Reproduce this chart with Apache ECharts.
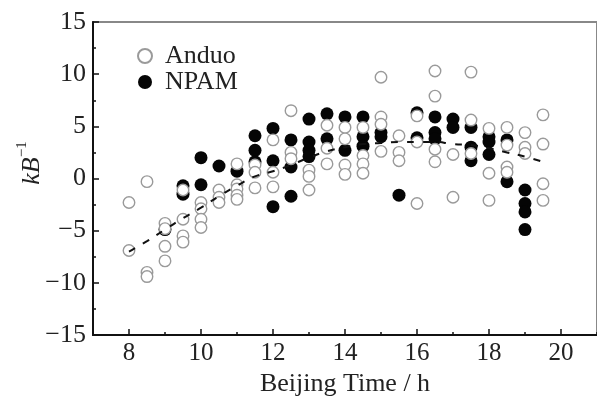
<!DOCTYPE html>
<html><head><meta charset="utf-8">
<script src="https://cdn.jsdelivr.net/npm/echarts@6/dist/echarts.min.js"></script>
<style>html,body{margin:0;padding:0;background:#fff}#c{width:597px;height:402px}</style>
</head><body><div id="c"></div>
<script>
const seriesNames = ['Anduo', 'NPAM'];
const anduo = [
  [8,-2.3],[8,-6.9],
  [8.5,-0.3],[8.5,-9.0],[8.5,-9.4],
  [9,-4.3],[9,-4.8],[9,-6.5],[9,-7.9],
  [9.5,-1.1],[9.5,-3.9],[9.5,-5.5],[9.5,-6.1],
  [10,-2.3],[10,-2.9],[10,-3.9],[10,-4.7],
  [10.5,-1.1],[10.5,-1.8],[10.5,-2.3],
  [11,1.4],[11,-0.6],[11,-1.0],[11,-1.6],[11,-2.0],
  [11.5,1.3],[11.5,0.6],[11.5,-0.9],
  [12,3.7],[12,0.6],[12,-0.8],
  [12.5,6.5],[12.5,2.5],[12.5,1.9],
  [13,0.8],[13,0.2],[13,-1.1],
  [13.5,5.1],[13.5,2.9],[13.5,1.4],
  [14,4.9],[14,3.8],[14,1.3],[14,0.4],
  [14.5,4.9],[14.5,2.2],[14.5,1.4],[14.5,0.5],
  [15,9.7],[15,5.9],[15,5.2],[15,2.6],
  [15.5,4.1],[15.5,2.5],[15.5,1.7],
  [16,6.0],[16,3.5],[16,-2.4],
  [16.5,10.3],[16.5,7.9],[16.5,2.8],[16.5,1.6],
  [17,2.3],[17,-1.8],
  [17.5,10.2],[17.5,5.6],[17.5,2.4],
  [18,4.8],[18,0.5],[18,-2.1],
  [18.5,4.9],[18.5,3.2],[18.5,1.1],[18.5,0.6],
  [19,4.4],[19,3.0],[19,2.4],
  [19.5,6.1],[19.5,3.3],[19.5,-0.5],[19.5,-2.1]
];
const npam = [
  [9,-4.9],
  [9.5,-0.7],[9.5,-1.5],
  [10,2.0],[10,-0.6],
  [10.5,1.2],
  [11,0.7],
  [11.5,4.1],[11.5,2.7],[11.5,1.6],
  [12,4.8],[12,1.7],[12,-2.7],
  [12.5,3.7],[12.5,1.1],[12.5,-1.7],
  [13,5.7],[13,3.5],[13,2.7],[13,2.1],
  [13.5,6.2],[13.5,3.8],
  [14,5.9],[14,2.7],
  [14.5,5.9],[14.5,4.0],[14.5,3.1],
  [15,4.4],[15,4.0],
  [15.5,-1.6],
  [16,6.3],[16,3.9],
  [16.5,5.9],[16.5,4.4],[16.5,3.8],
  [17,5.7],[17,4.9],
  [17.5,4.9],[17.5,3.0],[17.5,1.7],
  [18,4.0],[18,3.5],[18,2.3],
  [18.5,3.7],[18.5,-0.3],
  [19,-1.1],[19,-2.4],[19,-3.2],[19,-4.9]
];
const fitLine = [
  [8,-7.0],[8.5,-6.0],[9,-4.9],[9.5,-3.8],[10,-2.8],[10.5,-1.7],[11,-0.7],[11.5,0.2],
  [12,0.7],[12.5,1.3],[13,2.0],[13.5,2.6],[14,3.0],[14.5,3.3],[15,3.4],[15.5,3.5],
  [16,3.5],[16.5,3.5],[17,3.3],[17.5,3.2],[18,2.9],[18.5,2.5],[19,2.1],[19.5,1.6]
];
const xMajorTicks = [8,10,12,14,16,18,20];
const xMinorTicks = [7,9,11,13,15,17,19,21];
const xAxisTitle = 'Beijing Time / h';
const yAxisTitleMain = 'kB';
const yAxisTitleSup = '−1';

const FONT = '"Liberation Serif", "Times New Roman", serif';
const chart = echarts.init(document.getElementById('c'), null, {renderer: 'canvas'});
chart.setOption({
  backgroundColor: '#fff',
  animation: false,
  grid: {left: 93, top: 22, width: 510, height: 315, show: true, borderColor: '#888', borderWidth: 2, containLabel: false},
  legend: {
    data: seriesNames, orient: 'vertical', left: 132, top: 38,
    itemWidth: 14, itemHeight: 14, itemGap: 0, icon: 'circle',
    textStyle: {fontFamily: FONT, fontSize: 26, color: '#222', lineHeight: 25, padding: [0,0,0,8]}
  },
  xAxis: [{
    type: 'value', min: 7, max: 21, position: 'bottom',
    name: xAxisTitle, nameLocation: 'middle', nameGap: 36,
    nameTextStyle: {fontFamily: FONT, fontSize: 26, color: '#222'},
    axisLine: {show: true, onZero: false, lineStyle: {color: '#111', width: 2}},
    axisTick: {show: true, inside: true, length: 6, lineStyle: {color: '#111', width: 1.5}, customValues: xMajorTicks},
    axisLabel: {fontFamily: FONT, fontSize: 25, color: '#222', margin: 6, customValues: xMajorTicks},
    splitLine: {show: false}
  }, {
    type: 'value', min: 7, max: 21, position: 'bottom', offset: 0,
    axisLine: {show: false, onZero: false},
    axisTick: {show: true, inside: true, length: 3, lineStyle: {color: '#111', width: 1.5}, customValues: xMinorTicks},
    axisLabel: {show: false},
    splitLine: {show: false}
  }],
  yAxis: {
    type: 'value', min: -15, max: 15, interval: 5,
    axisLine: {show: true, onZero: false, lineStyle: {color: '#111', width: 2}},
    axisTick: {show: true, inside: true, length: 6, lineStyle: {color: '#111', width: 1.5}},
    minorTick: {show: true, splitNumber: 2, length: 3, lineStyle: {color: '#111', width: 1.5}},
    axisLabel: {fontFamily: FONT, fontSize: 26, color: '#222', margin: 7,
      formatter: v => String(v).replace('-', '−')},
    splitLine: {show: false}, minorSplitLine: {show: false}
  },
  graphic: [{
    type: 'text', x: 30, y: 163, rotation: Math.PI / 2,
    style: {
      text: '{i|' + yAxisTitleMain + '}{s|' + yAxisTitleSup + '}',
      align: 'center', verticalAlign: 'middle',
      rich: {
        i: {fontFamily: FONT, fontStyle: 'italic', fontSize: 26, fill: '#222', lineHeight: 30, verticalAlign: 'bottom'},
        s: {fontFamily: FONT, fontSize: 15, fill: '#222', lineHeight: 30, verticalAlign: 'top'}
      }
    }
  }],
  series: [{
    name: 'Anduo', type: 'scatter', data: anduo, z: 3, symbol: 'circle', symbolSize: 11.5,
    itemStyle: {color: '#fff', borderColor: '#9a9a9a', borderWidth: 1.4, opacity: 1}
  }, {
    name: 'NPAM', type: 'scatter', data: npam, z: 2, symbol: 'circle', symbolSize: 13,
    itemStyle: {color: '#050505', opacity: 1}
  }, {
    name: 'fit', type: 'line', data: fitLine, z: 4, smooth: true, showSymbol: false, symbol: 'none',
    lineStyle: {color: '#111', width: 2, type: [7, 9]}
  }]
});
</script></body></html>
